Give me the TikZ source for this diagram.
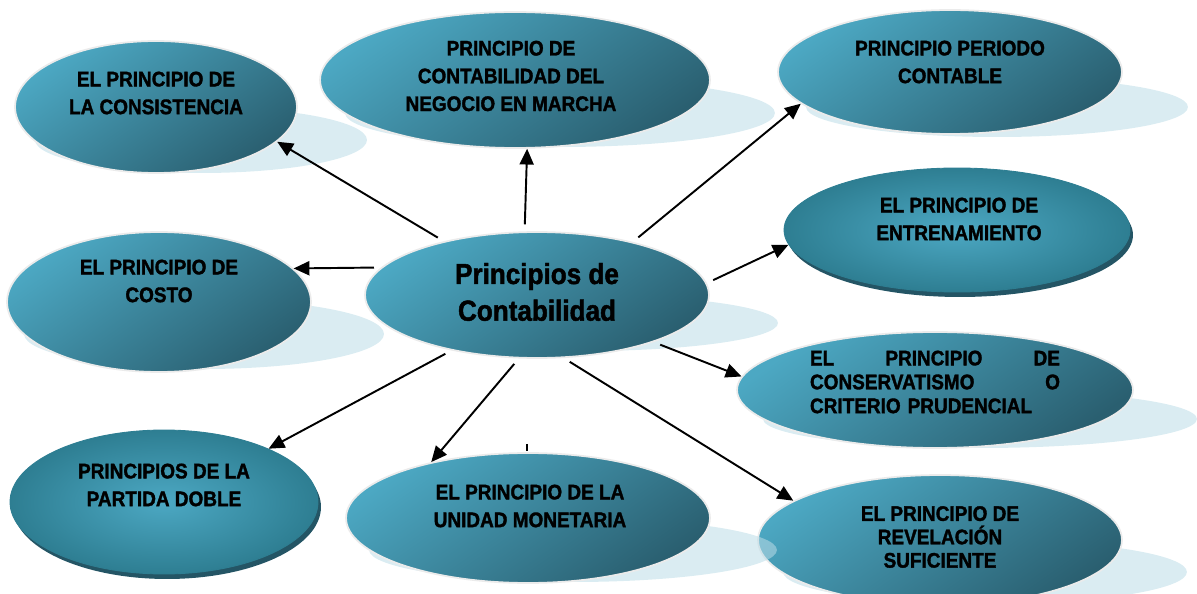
\documentclass[tikz,border=0pt]{standalone}
\usepackage{fontspec}
\setmainfont{Liberation Sans}[FakeStretch=0.9, BoldFeatures={FakeBold=1.6}]
\usepackage{xcolor}
\usepackage{tikz}
\usetikzlibrary{shapes.geometric,arrows.meta}

\definecolor{tealclaro}{RGB}{76,168,195}
\definecolor{tealoscuro}{RGB}{42,95,112}
\definecolor{tealmedio}{RGB}{46,126,146}
\definecolor{sombraclara}{RGB}{188,220,231}
\definecolor{sombraoscura}{RGB}{36,85,101}

\tikzset{
	burbuja/.style={ellipse, inner sep=0pt, draw=black!8, line width=1pt,
		top color=tealclaro, bottom color=tealoscuro, shading angle=35},
	burbujaradial/.style={ellipse, inner sep=0pt, draw=tealmedio, line width=0.5pt,
		shading=radial, inner color=tealclaro, outer color=tealmedio},
	sombra/.style={fill=sombraclara, fill opacity=0.55},
	texto/.style={inner sep=0pt, align=center, font=\bfseries\fontsize{12}{15.8}\selectfont},
	flecha/.style={-{Triangle[length=9pt,width=8pt]}, line width=1.1pt, shorten <=4pt},
}

\begin{document}
\begin{tikzpicture}[x=0.02cm, y=-0.02cm]
	\useasboundingbox (0,0) rectangle (1197,594);

	% idea central
	\fill[sombra] (584,323) ellipse [x radius=3.88cm, y radius=0.56cm];
	\node[burbuja, minimum width=6.88cm, minimum height=2.52cm] (cen) at (537,295) {};
	\node[texto, font=\bfseries\fontsize{16.5}{20.9}\selectfont] (cen-t) at (537,292) {Principios de\\Contabilidad};

	\fill[sombra] (560,113) ellipse [x radius=4.3cm, y radius=0.68cm];
	\node[burbuja, minimum width=7.8cm, minimum height=2.72cm] (neg) at (515,80) {};
	\node[texto] (neg-t) at (511,76) {PRINCIPIO DE\\CONTABILIDAD DEL\\NEGOCIO EN MARCHA};

	\fill[sombra] (997,107) ellipse [x radius=3.82cm, y radius=0.6cm];
	\node[burbuja, minimum width=6.88cm, minimum height=2.48cm] (per) at (950,72) {};
	\node[texto] (per-t) at (950,62) {PRINCIPIO PERIODO\\CONTABLE};

	\fill[sombra] (201,140) ellipse [x radius=3.32cm, y radius=0.66cm];
	\node[burbuja, minimum width=5.64cm, minimum height=2.64cm] (cons) at (156,107) {};
	\node[texto] (cons-t) at (156,93) {EL PRINCIPIO DE\\LA CONSISTENCIA};

	\fill[sombraoscura] (960,235) ellipse [x radius=3.46cm, y radius=1.24cm];
	\node[burbujaradial, minimum width=6.92cm, minimum height=2.48cm] (ent) at (957,230) {};
	\node[texto] (ent-t) at (959,219) {EL PRINCIPIO DE\\ENTRENAMIENTO};

	\fill[sombra] (980,419) ellipse [x radius=4.34cm, y radius=0.58cm];
	\node[burbuja, minimum width=7.92cm, minimum height=2.32cm] (con) at (935,390) {};
	\node[texto, text width=5cm, align=left, font=\bfseries\fontsize{12}{13.6}\selectfont] (con-t) at (935,382)
		{EL\hfill PRINCIPIO\hfill DE\\CONSERVATISMO\hfill O\\CRITERIO PRUDENCIAL};

	\fill[sombra] (985,572) ellipse [x radius=4.04cm, y radius=0.64cm];
	\node[burbuja, minimum width=7.28cm, minimum height=2.6cm] (rev) at (940,540) {};
	\node[texto, font=\bfseries\fontsize{12}{13.3}\selectfont] (rev-t) at (940,537) {EL PRINCIPIO DE\\REVELACIÓN\\SUFICIENTE};

	\fill[sombra] (573,550) ellipse [x radius=4.08cm, y radius=0.64cm];
	\node[burbuja, minimum width=7.28cm, minimum height=2.6cm] (uni) at (528,518) {};
	\node[texto] (uni-t) at (530,506) {EL PRINCIPIO DE LA\\UNIDAD MONETARIA};

	\fill[sombraoscura] (167,507) ellipse [x radius=3.08cm, y radius=1.44cm];
	\node[burbujaradial, minimum width=6.16cm, minimum height=2.88cm] (par) at (164,502) {};
	\node[texto] (par-t) at (164,485) {PRINCIPIOS DE LA\\PARTIDA DOBLE};

	\fill[sombra] (204,334) ellipse [x radius=3.6cm, y radius=0.7cm];
	\node[burbuja, minimum width=6.08cm, minimum height=2.8cm] (cos) at (159,302) {};
	\node[texto] (cos-t) at (159,281) {EL PRINCIPIO DE\\COSTO};

	% flechas
	\draw[flecha] (cen.150) -- (cons.-16);
	\draw[flecha] (cen.101) -- (neg.-80);
	\draw[flecha] (cen.29) -- (per.192);
	\draw[flecha] (cen.4) -- (ent.185);
	\draw[flecha] (cen.170) -- (cos.14);
	\draw[flecha] (cen.-22) -- (con.176);
	\draw[flecha] (cen.-147) -- (par.27);
	\draw[flecha] (cen.-106) -- (uni.150);
	\draw[flecha] (cen.-67) -- (rev.165);
	\draw[line width=1.2pt] (527,444) -- (527,451);
\end{tikzpicture}
\end{document}
